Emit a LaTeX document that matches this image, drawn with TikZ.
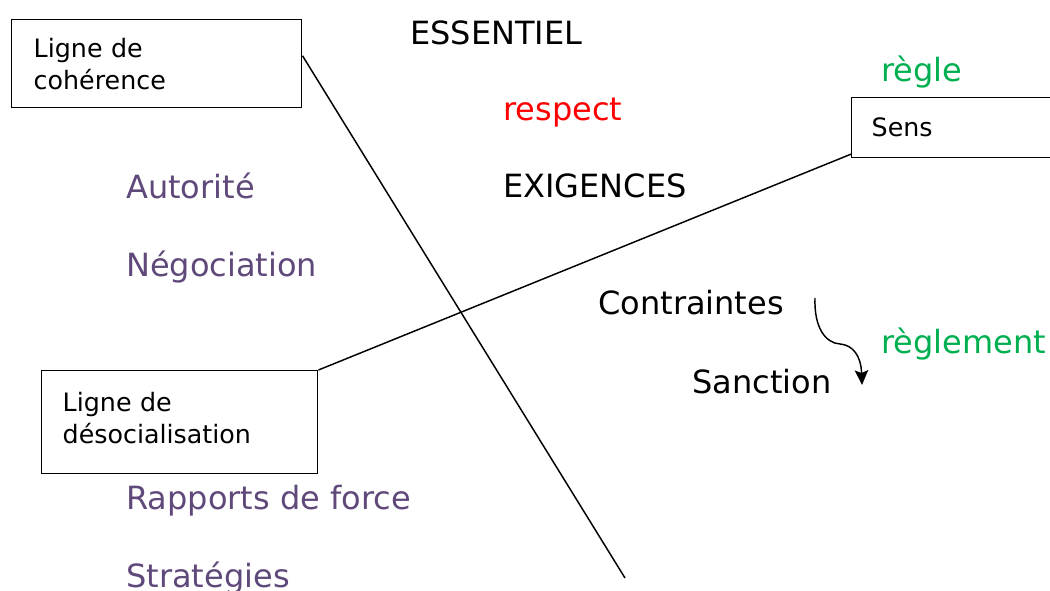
\documentclass[tikz,border=0pt]{standalone}
\usepackage{fontspec}
\setmainfont{DejaVu Sans}
\usetikzlibrary{arrows.meta,calc}
\definecolor{mauve}{HTML}{5F497A}
\definecolor{vert}{HTML}{00B050}
\definecolor{rouge}{HTML}{FF0000}
\tikzset{
  big/.style={font=\fontsize{24}{28}\selectfont, inner sep=0pt, anchor=base west},
  box/.style={draw, line width=1.1pt, font=\fontsize{19}{24}\selectfont, align=left, anchor=north west, inner ysep=0pt},
  conn/.style={line width=1.1pt},
}
\begin{document}
\begin{tikzpicture}[x=0.75pt,y=-0.75pt]
\useasboundingbox (0,0) rectangle (1050,591);
\clip (0,0) rectangle (1050,591);
% boxes
\node[box, text width=184.5pt, inner xsep=16.5pt, minimum height=66pt] (b1) at (11,19) {Ligne de\\cohérence};
\node[box, text width=126.75pt, inner xsep=15pt, minimum height=45pt] (b2) at (851,97) {Sens};
\node[box, text width=175.5pt, inner xsep=15.75pt, minimum height=77.25pt] (b3) at (41,370) {Ligne de\\désocialisation\vspace{6pt}};
% free ends
\coordinate (e1) at (625,578);
% connectors
\draw[conn] ($(b1.north east)!0.41!(b1.south east)$) -- (e1);
\draw[conn] (b3.north east) -- ($(b2.north west)!0.93!(b2.south west)$);
% texts
\node[big] (ess) at (410,45) {ESSENTIEL};
\node[big, text=rouge] (resp) at (503,121) {respect};
\node[big] (exi) at (503,198) {EXIGENCES};
\node[big, text=vert] (regle) at (881,82) {règle};
\node[big, text=mauve] (aut) at (126,199) {Autorité};
\node[big, text=mauve] (neg) at (126,277) {Négociation};
\node[big] (con) at (598,315) {Contraintes};
\node[big, text=vert] (regl) at (881,354) {règlement};
\node[big] (san) at (692,394) {Sanction};
\node[big, text=mauve] (rap) at (126,509) {Rapports de force};
\node[big, text=mauve] (str) at (126,587) {Stratégies};
% curved arrow
\coordinate (a1) at (815,298);
\coordinate (a2) at (862,385);
\draw[conn, -{Stealth[length=11pt,width=10pt,inset=2pt]}] (a1) .. controls (814,327) and (825,343) .. (840,344) .. controls (853,345) and (861,356) .. (a2);
\end{tikzpicture}
\end{document}
